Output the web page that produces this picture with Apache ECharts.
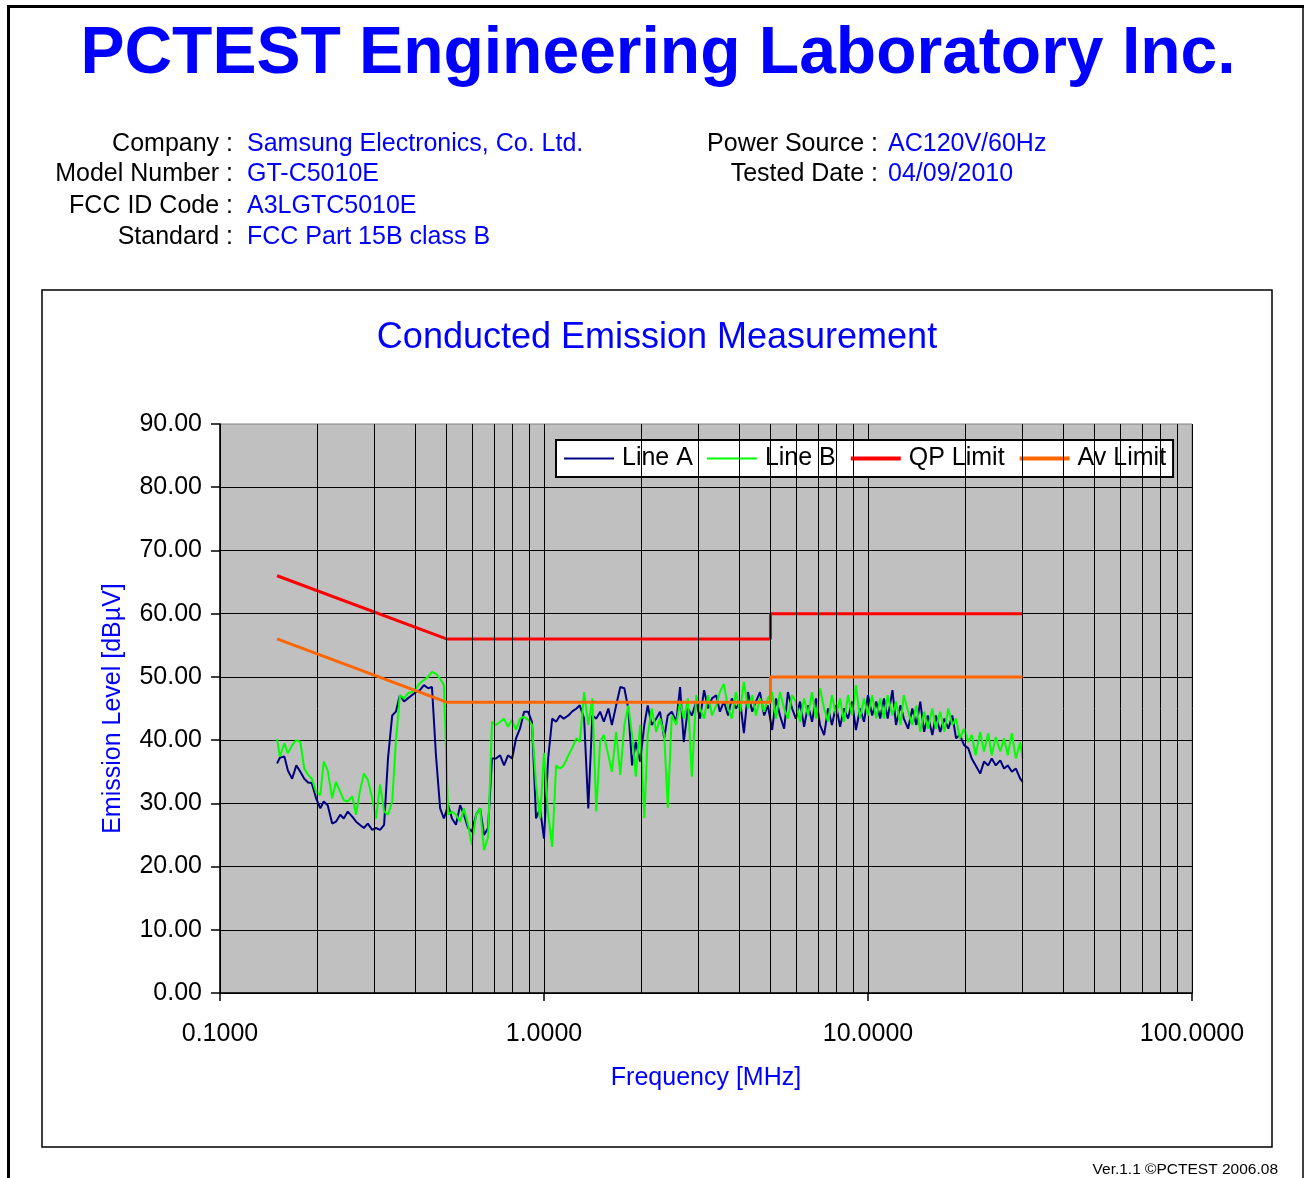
<!DOCTYPE html>
<html>
<head>
<meta charset="utf-8">
<title>Conducted Emission Measurement</title>
<script src="https://cdn.jsdelivr.net/npm/echarts@6/dist/echarts.min.js"></script>
<style>
  html, body { margin: 0; padding: 0; background: #fff; }
  #chart { width: 1305px; height: 1178px; }
</style>
</head>
<body>
<div id="chart"></div>
<script>
const FONT = '"Liberation Sans", Arial, Helvetica, sans-serif'

// sweep frequencies [MHz], shared by both measured lines
const freqs = [
  0.150, 0.153, 0.158, 0.162, 0.167, 0.172, 0.177, 0.182, 0.187, 0.192, 0.198, 0.204, 0.209, 0.215, 0.222, 0.228,
  0.235, 0.241, 0.248, 0.256, 0.263, 0.270, 0.278, 0.286, 0.295, 0.303, 0.312, 0.321, 0.330, 0.340, 0.349, 0.359,
  0.370, 0.380, 0.391, 0.403, 0.414, 0.426, 0.439, 0.451, 0.464, 0.478, 0.491, 0.506, 0.520, 0.535, 0.551, 0.566,
  0.583, 0.599, 0.617, 0.635, 0.653, 0.672, 0.691, 0.711, 0.732, 0.753, 0.774, 0.797, 0.820, 0.843, 0.868, 0.893,
  0.918, 0.945, 0.972,
  1.00, 1.03, 1.06, 1.09, 1.12, 1.15, 1.19, 1.22, 1.26, 1.29, 1.33, 1.37, 1.41, 1.45, 1.49, 1.53, 1.58, 1.62, 1.67,
  1.72, 1.77, 1.82, 1.87, 1.92, 1.98, 2.04, 2.09, 2.15, 2.22, 2.28, 2.35, 2.41, 2.48, 2.56, 2.63, 2.70, 2.78, 2.86,
  2.95, 3.03, 3.12, 3.21, 3.30, 3.40, 3.49, 3.59, 3.70, 3.80, 3.91, 4.03, 4.14, 4.26, 4.39, 4.51, 4.64, 4.78, 4.91,
  5.06, 5.20, 5.35, 5.51, 5.66, 5.83, 5.99, 6.17, 6.35, 6.53, 6.72, 6.91, 7.11, 7.32, 7.53, 7.74, 7.97, 8.20, 8.43,
  8.68, 8.93, 9.18, 9.45, 9.72,
  10.0, 10.3, 10.6, 10.9, 11.2, 11.5, 11.9, 12.2, 12.6, 12.9, 13.3, 13.7, 14.1, 14.5, 14.9, 15.3, 15.8, 16.2, 16.7,
  17.2, 17.7, 18.2, 18.7, 19.2, 19.8, 20.4, 20.9, 21.5, 22.2, 22.8, 23.5, 24.1, 24.8, 25.6, 26.3, 27.0, 27.8, 28.6,
  29.5, 30.0
]

// Line A level [dBuV]
const lineA = [
  36.3, 37.2, 37.4, 35.2, 33.9, 36.0, 35.0, 33.9, 33.3, 33.2, 30.8, 29.2, 30.3, 29.7, 26.8, 27.1,
  28.2, 27.6, 28.7, 27.9, 27.1, 26.6, 26.1, 26.8, 25.8, 26.1, 25.8, 26.6, 37.1, 43.9, 44.5, 47.1,
  46.1, 46.6, 47.1, 47.6, 47.9, 48.7, 48.2, 48.4, 37.6, 29.2, 27.6, 29.7, 27.6, 26.6, 29.7, 28.2,
  26.1, 25.5, 28.2, 29.2, 25.0, 26.1, 37.1, 37.1, 37.6, 36.0, 37.6, 37.1, 40.3, 41.8, 44.5, 44.5,
  42.9, 27.6, 29.2,
  24.4, 37.1, 43.4, 42.9, 43.9, 43.4, 43.9, 44.5, 45.0, 45.5, 43.4, 29.2, 43.9, 43.4, 44.5, 42.9, 45.0, 42.4, 45.5,
  48.4, 48.2, 45.0, 36.0, 39.7, 36.6, 42.4, 45.5, 42.4, 43.4, 44.5, 40.3, 43.9, 44.5, 42.9, 48.4, 39.7, 45.0, 43.9,
  46.1, 43.4, 47.9, 45.0, 46.6, 47.1, 44.5, 46.1, 43.9, 46.6, 45.0, 46.1, 41.1, 47.6, 44.5, 46.1, 47.6, 43.9, 45.5,
  41.6, 46.6, 43.9, 41.8, 47.6, 45.0, 43.4, 46.1, 42.1, 45.5, 42.9, 46.6, 42.4, 40.8, 45.0, 42.4, 45.5, 42.1, 45.0,
  43.4, 46.1, 41.6, 45.0, 42.9,
  47.1, 43.9, 46.1, 43.4, 46.6, 43.4, 47.9, 42.4, 45.5, 43.4, 41.8, 45.0, 42.4, 46.1, 41.3, 43.9, 40.8, 43.9, 41.3,
  43.4, 41.8, 43.9, 40.3, 40.8, 39.2, 38.7, 37.1, 36.0, 34.7, 36.6, 36.0, 37.1, 36.0, 36.8, 35.5, 36.0, 35.0, 35.5,
  33.9, 33.4
]

// Line B level [dBuV]
const lineB = [
  40.2, 37.4, 39.5, 37.9, 39.2, 40.0, 39.7, 35.5, 34.5, 33.9, 31.8, 31.3, 36.6, 35.2, 30.8, 33.4,
  31.8, 30.5, 30.3, 31.1, 28.2, 31.8, 34.7, 33.7, 30.8, 27.6, 33.0, 28.7, 28.2, 30.3, 39.7, 47.1,
  46.6, 47.4, 47.6, 48.2, 49.0, 49.5, 50.0, 50.8, 50.5, 49.7, 48.7, 28.2, 28.7, 28.2, 27.1, 29.2,
  26.6, 23.4, 28.2, 29.2, 22.6, 24.7, 42.9, 42.4, 42.9, 43.4, 42.1, 43.2, 41.6, 43.4, 43.7, 43.2,
  42.4, 32.9, 27.6,
  38.0, 28.2, 23.1, 36.0, 35.5, 36.0, 37.6, 38.7, 40.3, 39.7, 47.6, 42.4, 46.6, 28.7, 39.7, 40.8, 37.6, 35.0, 41.3,
  34.5, 42.4, 45.5, 40.8, 34.2, 42.4, 27.7, 40.8, 45.0, 41.3, 43.4, 40.8, 29.3, 43.9, 42.4, 46.1, 43.4, 46.6, 34.2,
  47.1, 45.0, 43.4, 47.1, 43.9, 45.5, 47.6, 48.9, 45.0, 43.4, 47.6, 44.5, 49.2, 45.0, 47.1, 43.9, 46.6, 44.5, 46.6,
  47.6, 43.4, 47.6, 45.0, 43.4, 47.1, 46.1, 42.9, 46.6, 43.9, 47.6, 43.4, 48.2, 45.0, 42.9, 47.1, 43.9, 46.6, 42.9,
  47.1, 43.9, 48.7, 43.4, 46.6,
  43.9, 47.1, 43.4, 46.6, 43.4, 47.1, 43.9, 46.1, 42.4, 47.1, 44.5, 42.4, 45.5, 41.3, 44.5, 41.8, 45.0, 41.8, 44.5,
  41.3, 45.0, 42.4, 43.4, 40.3, 41.8, 39.7, 40.8, 37.6, 41.3, 38.2, 41.1, 37.6, 40.5, 38.2, 40.3, 37.6, 41.1, 37.1,
  39.7, 37.1
]

// FCC Part 15B class B limits
const limitFreqs = [0.15, 0.5, 5, 5, 30]
const qpLimit = [66, 56, 56, 60, 60]
const avLimit = [56, 46, 46, 50, 50]

// minor vertical grid lines (2..9 in each decade)
const minorFreqs = [0.2, 0.3, 0.4, 0.5, 0.6, 0.7, 0.8, 0.9, 2, 3, 4, 5, 6, 7, 8, 9, 20, 30, 40, 50, 60, 70, 80, 90]

const infoLabels = ['Company :', 'Model Number :', 'FCC ID Code :', 'Standard :']
const infoValues = ['Samsung Electronics, Co. Ltd.', 'GT-C5010E', 'A3LGTC5010E', 'FCC Part 15B class B']
const infoLabels2 = ['Power Source :', 'Tested Date :']
const infoValues2 = ['AC120V/60Hz', '04/09/2010']
const rowY = [144, 174, 206, 237]

const pairs = (xs, ys) => ys.map((y, i) => [xs[i], y])

const txt = (text, x, y, opt = {}) => ({
  type: 'text',
  silent: true,
  style: {
    text, x, y,
    fill: opt.color || '#000',
    font: (opt.weight || 'normal') + ' ' + (opt.size || 25) + 'px ' + FONT,
    align: opt.align || 'left',
    textAlign: opt.align || 'left',
    verticalAlign: 'middle',
    textVerticalAlign: 'middle'
  }
})

const chart = echarts.init(document.getElementById('chart'), null, { renderer: 'canvas' })

const graphics = [
  // page frame
  { type: 'line', silent: true, shape: { x1: 8.5, y1: 5, x2: 8.5, y2: 1178 }, style: { stroke: '#000', lineWidth: 3 } },
  { type: 'line', silent: true, shape: { x1: 7, y1: 6.5, x2: 1304, y2: 6.5 }, style: { stroke: '#000', lineWidth: 3 } },
  { type: 'line', silent: true, shape: { x1: 1303, y1: 5, x2: 1303, y2: 1178 }, style: { stroke: '#000', lineWidth: 1.5 } },
  // chart box
  { type: 'rect', silent: true, shape: { x: 42, y: 290, width: 1230, height: 857 }, style: { fill: 'none', stroke: '#000', lineWidth: 1.5 } },
  txt('PCTEST Engineering Laboratory Inc.', 658, 55, { color: '#0000ff', size: 66, weight: 'bold', align: 'center' }),
  txt('Conducted Emission Measurement', 657, 338, { color: '#0000ff', size: 36, align: 'center' }),
  txt('Ver.1.1 ©PCTEST 2006.08', 1278, 1170, { size: 15.5, align: 'right' })
]
infoLabels.forEach((t, i) => graphics.push(txt(t, 233, rowY[i], { align: 'right' })))
infoValues.forEach((t, i) => graphics.push(txt(t, 247, rowY[i], { color: '#0000ff' })))
infoLabels2.forEach((t, i) => graphics.push(txt(t, 878, rowY[i], { align: 'right' })))
infoValues2.forEach((t, i) => graphics.push(txt(t, 888, rowY[i], { color: '#0000ff' })))

const option = {
  animation: false,
  backgroundColor: '#fff',
  textStyle: { fontFamily: FONT },
  grid: {
    left: 220, right: 113, top: 424, bottom: 185,
    show: true,
    backgroundColor: '#c0c0c0',
    borderColor: '#808080',
    borderWidth: 1
  },
  legend: {
    left: 556,
    top: 440,
    data: [
      { name: 'Line A', lineStyle: { width: 2 } },
      { name: 'Line B', lineStyle: { width: 2 } },
      { name: 'QP Limit', lineStyle: { width: 4 } },
      { name: 'Av Limit', lineStyle: { width: 4 } }
    ],
    backgroundColor: '#fff',
    borderColor: '#000',
    borderWidth: 2,
    borderRadius: 0,
    padding: [6, 7, 6, 7],
    itemGap: 13,
    itemWidth: 50,
    itemHeight: 14,
    itemStyle: { opacity: 0 },
    textStyle: { fontSize: 25, color: '#000', fontFamily: FONT, padding: [0, 0, 0, 3] }
  },
  xAxis: {
    type: 'log',
    logBase: 10,
    min: 0.1,
    max: 100,
    name: 'Frequency [MHz]',
    nameLocation: 'middle',
    nameGap: 73,
    nameTextStyle: { color: '#0000ff', fontSize: 25, fontFamily: FONT },
    axisLine: { show: true, lineStyle: { color: '#000', width: 1.5 } },
    axisTick: { show: true, length: 8, lineStyle: { color: '#000', width: 1.5 } },
    axisLabel: {
      color: '#000', fontSize: 25, fontFamily: FONT, margin: 29,
      formatter: v => Number(v).toFixed(4)
    },
    splitLine: { show: true, lineStyle: { color: '#000', width: 1 } }
  },
  yAxis: {
    type: 'value',
    min: 0,
    max: 90,
    interval: 10,
    name: 'Emission Level [dBµV]',
    nameLocation: 'middle',
    nameGap: 94,
    nameTextStyle: { color: '#0000ff', fontSize: 25, fontFamily: FONT },
    axisLine: { show: true, lineStyle: { color: '#000', width: 1.5 } },
    axisTick: { show: true, length: 9, lineStyle: { color: '#000', width: 1.5 } },
    axisLabel: {
      color: '#000', fontSize: 25, fontFamily: FONT, margin: 18,
      formatter: v => v.toFixed(2)
    },
    splitLine: { show: true, showMaxLine: false, lineStyle: { color: '#000', width: 1 } }
  },
  series: [
    {
      name: 'minor grid',
      type: 'line',
      data: [],
      z: 1,
      silent: true,
      markLine: {
        silent: true,
        symbol: ['none', 'none'],
        label: { show: false },
        emphasis: { disabled: true },
        lineStyle: { color: '#000', width: 1, type: 'solid' },
        data: minorFreqs.map(f => ({ xAxis: f }))
      }
    },
    {
      name: 'Line A',
      type: 'line',
      z: 2,
      data: pairs(freqs, lineA),
      symbol: 'none',
      color: '#000080',
      lineStyle: { color: '#000080', width: 2 }
    },
    {
      name: 'Line B',
      type: 'line',
      z: 3,
      data: pairs(freqs, lineB),
      symbol: 'none',
      color: '#00ff00',
      lineStyle: { color: '#00ff00', width: 2 }
    },
    {
      name: 'QP Limit',
      type: 'line',
      z: 4,
      data: pairs(limitFreqs, qpLimit),
      symbol: 'none',
      color: '#ff0000',
      lineStyle: { color: '#ff0000', width: 3 }
    },
    {
      name: 'Av Limit',
      type: 'line',
      z: 5,
      data: pairs(limitFreqs, avLimit),
      symbol: 'none',
      color: '#ff6600',
      lineStyle: { color: '#ff6600', width: 3 }
    }
  ],
  graphic: graphics
}

chart.setOption(option)
</script>
</body>
</html>
